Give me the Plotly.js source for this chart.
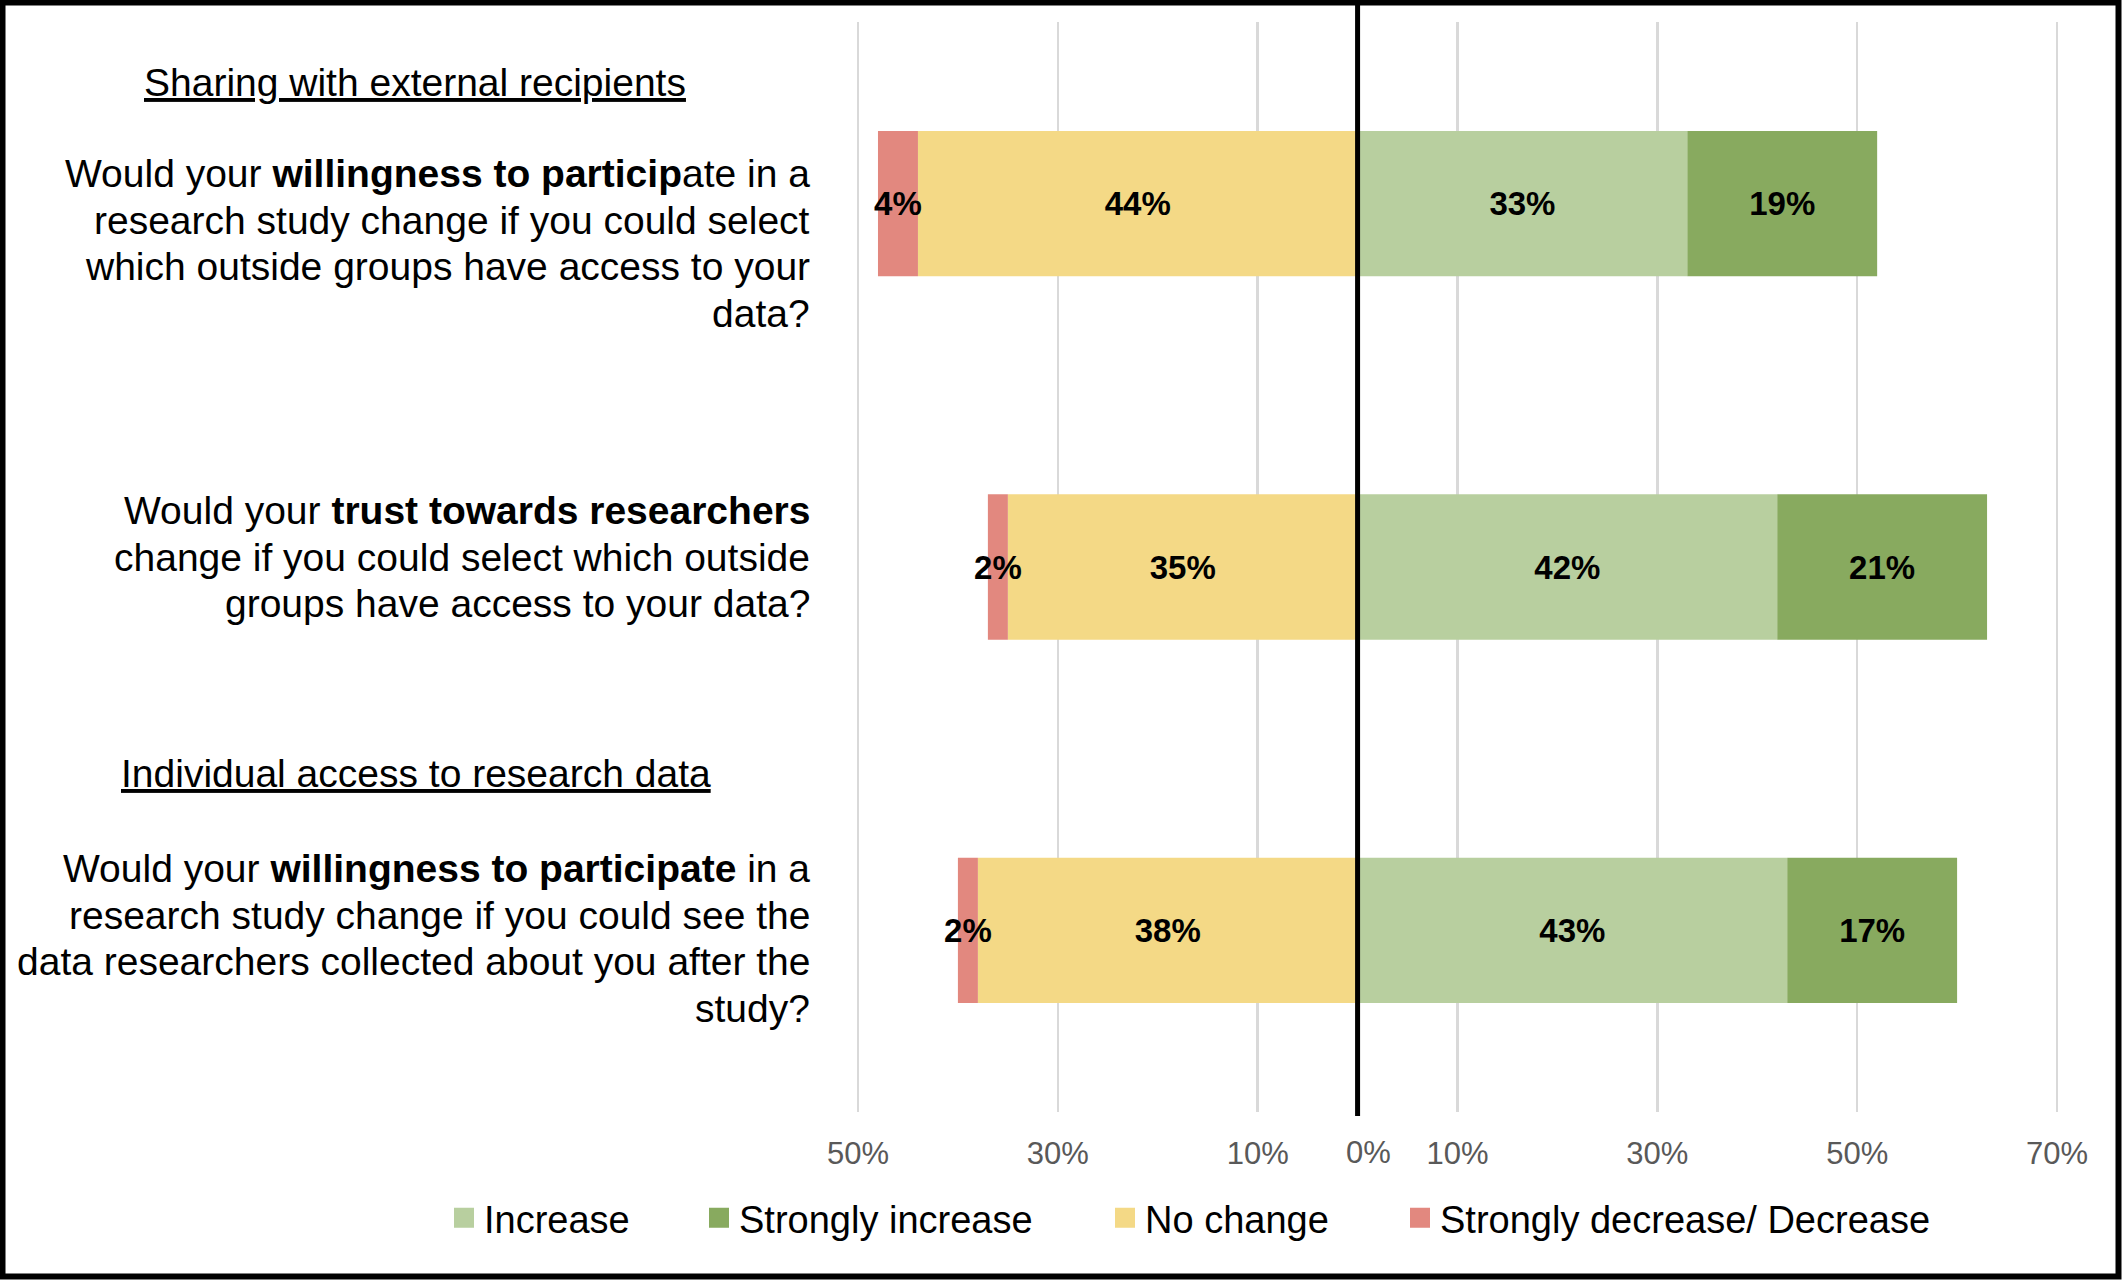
<!DOCTYPE html>
<html>
<head>
<meta charset="utf-8">
<script src="https://cdn.plot.ly/plotly-3.0.1.min.js"></script>
<style>
  html, body { margin: 0; padding: 0; background: #ffffff; }
  #chart { width: 2122px; height: 1280px; }
</style>
</head>
<body>
<div id="chart"></div>
<script>
// ---------------- DATA ----------------
const categories = [
  "Would your <b>willingness to particip</b>ate in a<br>research study change if you could select<br>which outside groups have access to your<br>data?",
  "Would your <b>trust towards researchers</b><br>change if you could select which outside<br>groups have access to your data?",
  "Would your <b>willingness to participate</b> in a<br>research study change if you could see the<br>data researchers collected about you after the<br>study?"
];
const sectionTitles = ["Sharing with external recipients", "Individual access to research data"];
const seriesNames = ["Increase", "Strongly increase", "No change", "Strongly decrease/ Decrease"];
const increase = [33, 42, 43];
const stronglyIncrease = [19, 21, 17];
const noChange = [44, 35, 38];
const decrease = [4, 2, 2];
const tickVals = [-50, -30, -10, 0, 10, 30, 50, 70];
const tickText = ["50%", "30%", "10%", "0%", "10%", "30%", "50%", "70%"];

// ---------------- STYLE / LAYOUT ----------------
const W = 2122, H = 1280;
const M = {l: 855, r: 62, t: 22, b: 168};
const PW = W - M.l - M.r, PH = H - M.t - M.b;
const px2x = p => (p - M.l) / PW;
const px2y = p => (H - M.b - p) / PH;

const colors = ["#B8CF9F", "#88AA5F", "#F4D986", "#E2887F"];
const FONT = "'Liberation Sans', Arial, Helvetica, sans-serif";
const pct = v => v + "%";

function barTrace(vals, sign, color, name) {
  return {
    type: "bar", orientation: "h", name: name, showlegend: false,
    y: categories, x: vals.map(v => sign * v),
    text: vals.map(pct), textposition: "inside", insidetextanchor: "middle",
    textangle: 0, constraintext: "none",
    insidetextfont: {family: FONT, size: 33, color: "#000000", weight: "bold"},
    marker: {color: color, line: {width: 0}},
    hoverinfo: "skip"
  };
}

const traces = [
  barTrace(increase, 1, colors[0], seriesNames[0]),
  barTrace(stronglyIncrease, 1, colors[1], seriesNames[1]),
  barTrace(noChange, -1, colors[2], seriesNames[2]),
  barTrace(decrease, -1, colors[3], seriesNames[3])
];
const legendWidths = [210, 361, 250, 0];
seriesNames.forEach((n, i) => {
  traces.push({
    type: "scatter", mode: "markers", name: n, x: [null], y: [null],
    marker: {symbol: "square", size: 16, color: colors[i], line: {width: 4, color: colors[i]}},
    legendwidth: legendWidths[i] || undefined, hoverinfo: "skip"
  });
});

const axisTicks = tickVals.map((v, i) => ({v, t: tickText[i]})).filter(d => d.v !== 0);
const zeroTick = tickVals.map((v, i) => ({v, t: tickText[i]})).filter(d => d.v === 0)[0];

// question labels: one annotation per line for tighter line spacing
const qShift = [-40, 10, -8];
const LINE = 46.5;
const annotations = [];
categories.forEach((c, i) => {
  const lines = c.split("<br>");
  const n = lines.length;
  lines.forEach((ln, j) => {
    annotations.push({
      xref: "paper", yref: "y", x: px2x(812), y: c, xanchor: "right", yanchor: "middle",
      yshift: qShift[i] - (j - (n - 1) / 2) * LINE, align: "right", showarrow: false, text: ln,
      font: {family: FONT, size: 39, color: "#000000"}
    });
  });
});
const titlePos = [{x: 415, y: 82}, {x: 416, y: 773}];
sectionTitles.forEach((t, i) => annotations.push({
  xref: "paper", yref: "paper", x: px2x(titlePos[i].x), y: px2y(titlePos[i].y),
  xanchor: "center", yanchor: "middle", showarrow: false, text: "<u>" + t + "</u>",
  font: {family: FONT, size: 39, color: "#000000"}
}));
annotations.push({
  xref: "x", yref: "paper", x: zeroTick.v, y: px2y(1152), xshift: 11,
  xanchor: "center", yanchor: "middle", showarrow: false, text: zeroTick.t,
  font: {family: FONT, size: 31, color: "#595959"}
});

const layout = {
  width: W, height: H,
  margin: M,
  paper_bgcolor: "#ffffff", plot_bgcolor: "#ffffff",
  barmode: "relative", bargap: 0.6,
  font: {family: FONT, color: "#000000"},
  showlegend: true,
  legend: {
    orientation: "h", x: px2x(444), xanchor: "left", y: px2y(1218), yanchor: "middle",
    font: {family: FONT, size: 38, color: "#000000"}, bgcolor: "rgba(0,0,0,0)",
    traceorder: "normal"
  },
  xaxis: {
    range: [-50.3, 70.3], tickmode: "array",
    tickvals: axisTicks.map(d => d.v), ticktext: axisTicks.map(d => d.t),
    showgrid: true, gridcolor: "#D9D9D9", gridwidth: 2.5, zeroline: false, showline: false,
    ticks: "", ticklabelstandoff: 20,
    tickfont: {family: FONT, size: 31, color: "#595959"}, fixedrange: true
  },
  yaxis: {
    type: "category", categoryorder: "array", categoryarray: categories,
    range: [2.5, -0.5], showticklabels: false, showgrid: false, zeroline: false,
    showline: false, ticks: "", fixedrange: true
  },
  annotations: annotations,
  shapes: [
    {type: "line", xref: "x", yref: "paper", x0: 0, x1: 0, y0: px2y(1116), y1: px2y(3),
     line: {color: "#000000", width: 5}, layer: "above"},
    {type: "rect", xref: "paper", yref: "paper", x0: px2x(2.5), x1: px2x(W - 3.5),
     y0: px2y(H - 3.5), y1: px2y(2.5), line: {color: "#000000", width: 6},
     fillcolor: "rgba(0,0,0,0)", layer: "above"}
  ]
};

Plotly.newPlot("chart", traces, layout, {staticPlot: true, displayModeBar: false});
</script>
</body>
</html>
